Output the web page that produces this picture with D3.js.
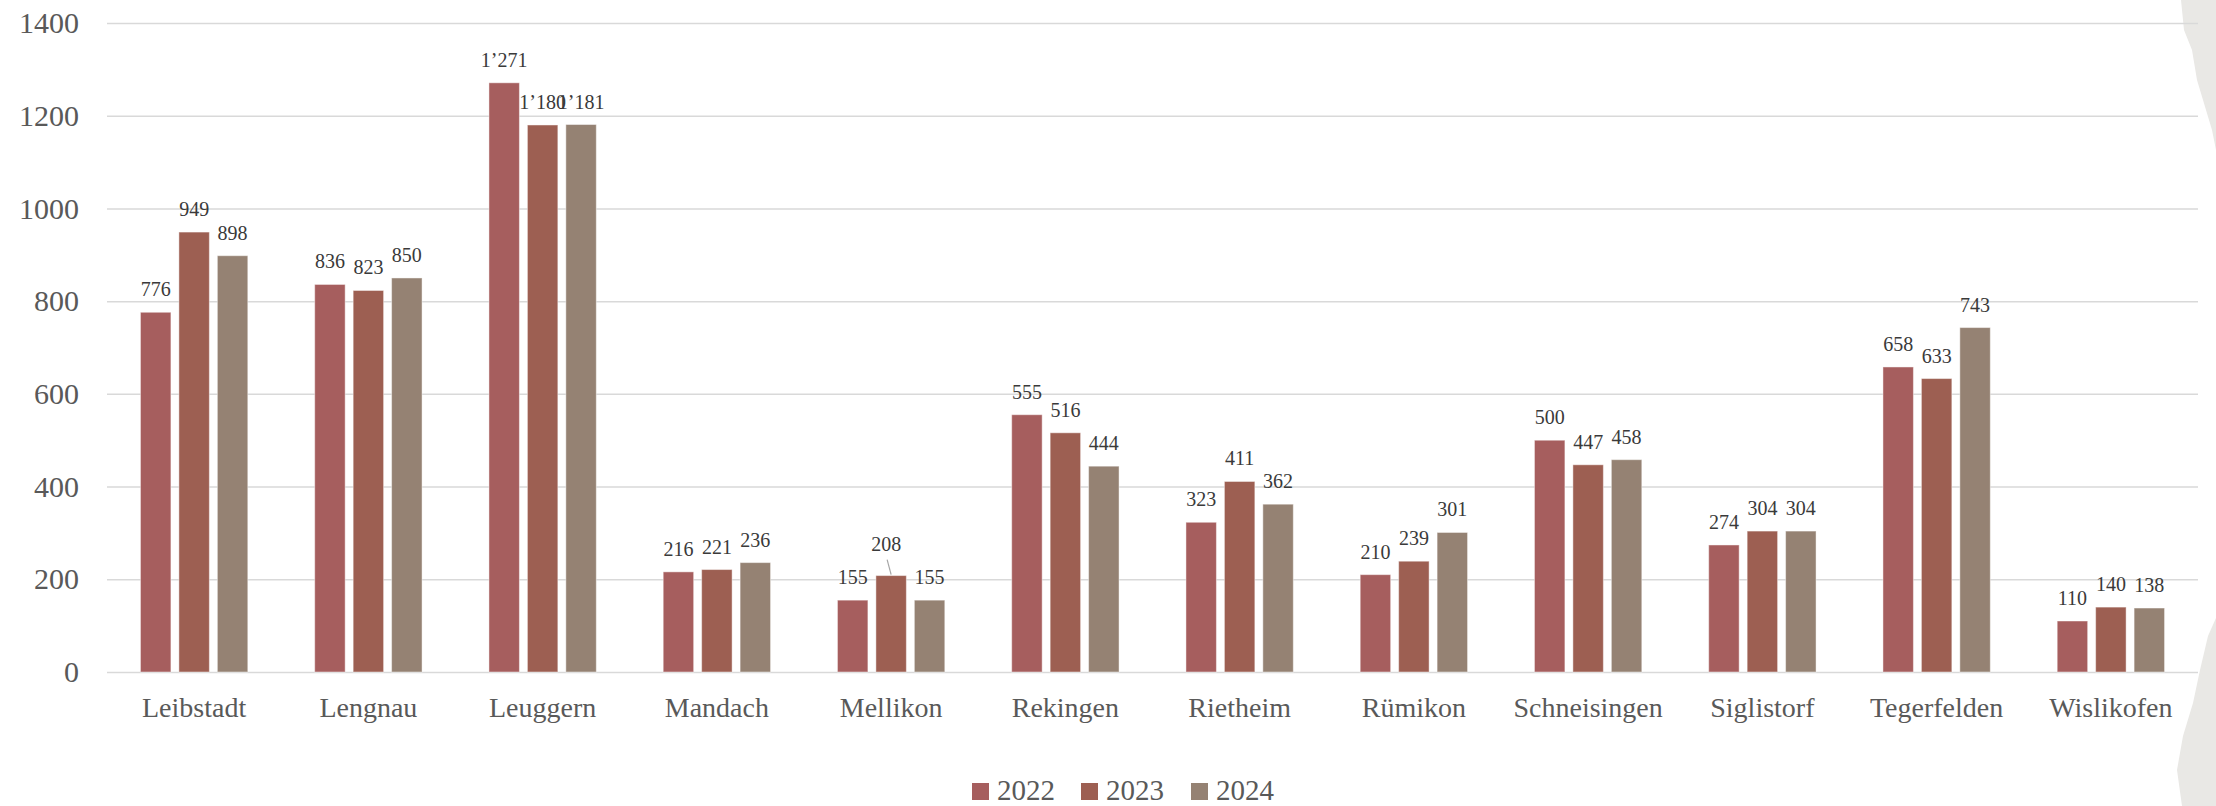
<!DOCTYPE html>
<html>
<head>
<meta charset="utf-8">
<script src="https://cdn.jsdelivr.net/npm/d3@7"></script>
<style>
  body { margin: 0; background: #fff; }
  svg { display: block; }
  svg text { font-family: "Liberation Serif", "Times New Roman", "DejaVu Serif", serif; }
</style>
</head>
<body>
<div id="chart"></div>
<script>
const places = ["Leibstadt", "Lengnau", "Leuggern", "Mandach", "Mellikon", "Rekingen",
  "Rietheim", "Rümikon", "Schneisingen", "Siglistorf", "Tegerfelden", "Wislikofen"];
const years = ["2022", "2023", "2024"];
const values2022 = [776, 836, 1271, 216, 155, 555, 323, 210, 500, 274, 658, 110];
const values2023 = [949, 823, 1180, 221, 208, 516, 411, 239, 447, 304, 633, 140];
const values2024 = [898, 850, 1181, 236, 155, 444, 362, 301, 458, 304, 743, 138];
const yTicks = [0, 200, 400, 600, 800, 1000, 1200, 1400];

const colors = ["#a65e5e", "#9d5f52", "#958273"];
const W = 2216, H = 806;
const plotLeft = 107, plotRight = 2198, plotTop = 23, plotBottom = 672;
const serif = "Liberation Serif, Times New Roman, DejaVu Serif, serif";

const svg = d3.select("#chart").append("svg")
  .attr("width", W)
  .attr("height", H);

// torn paper strip on the right edge
const paper = d3.line();
svg.append("path")
  .attr("d", paper([[2181, 0], [2184, 30], [2192, 50], [2197, 80], [2203, 100], [2212, 130], [2216, 150], [2216, 0]]) + "Z")
  .attr("fill", "#e9e8e5");
svg.append("path")
  .attr("d", paper([[2216, 618], [2208, 636], [2200, 670], [2193, 703], [2183, 736], [2177, 770], [2182, 806], [2216, 806]]) + "Z")
  .attr("fill", "#e9e8e5");

const x0 = d3.scaleBand().domain(places).range([plotLeft, plotRight]).padding(0);
const x1 = d3.scaleBand().domain(years).range([0, x0.bandwidth()])
  .paddingInner(0.208).paddingOuter(0.87);
const y = d3.scaleLinear().domain([0, 1400]).range([plotBottom, plotTop]);

const fmt = d3.formatLocale({ decimal: ".", thousands: "’", grouping: [3], currency: ["", ""] }).format(",d");

// gridlines + y axis labels
const yAxis = d3.axisLeft(y).tickValues(yTicks).tickSize(-(plotRight - plotLeft)).tickFormat(d3.format("d"));
const ga = svg.append("g").attr("transform", `translate(${plotLeft},0)`).call(yAxis);
ga.attr("font-family", serif);
ga.select(".domain").remove();
ga.selectAll(".tick line").attr("stroke", "#d9d9d9").attr("stroke-width", 1.5);
ga.selectAll(".tick text")
  .attr("x", -28)
  .attr("fill", "#595959")
  .attr("font-size", 30);

// bars
const series = [values2022, values2023, values2024];
const rows = places.map((p, i) => ({ place: p, vals: years.map((yr, k) => ({ year: yr, k: k, v: series[k][i], place: p })) }));

const groups = svg.selectAll(".grp")
  .data(rows)
  .enter()
  .append("g")
  .attr("class", "grp")
  .attr("transform", (d) => `translate(${x0(d.place)},0)`);

groups.selectAll("rect")
  .data((d) => d.vals)
  .enter()
  .append("rect")
  .attr("x", (d) => x1(d.year))
  .attr("y", (d) => y(d.v))
  .attr("width", x1.bandwidth())
  .attr("height", (d) => y(0) - y(d.v))
  .attr("fill", (d) => colors[d.k])
  .attr("stroke", "#fff")
  .attr("stroke-opacity", 0.45)
  .attr("stroke-width", 1);

// data labels (Mellikon 2023 sits higher with a leader line)
groups.selectAll(".lbl")
  .data((d) => d.vals)
  .enter()
  .append("text")
  .attr("class", "lbl")
  .attr("x", (d) => {
    let cx = x1(d.year) + x1.bandwidth() / 2;
    if (d.place === "Mellikon" && d.year === "2023") cx -= 5;
    return cx;
  })
  .attr("y", (d) => {
    if (d.place === "Mellikon" && d.year === "2023") return y(d.v) - 25;
    return y(d.v) - 16;
  })
  .attr("text-anchor", "middle")
  .attr("fill", "#3a3a3a")
  .attr("font-size", 20)
  .text((d) => fmt(d.v));

const mel = rows.find((r) => r.place === "Mellikon").vals[1];
const melX = x0("Mellikon") + x1("2023") + x1.bandwidth() / 2;
svg.append("line")
  .attr("x1", melX - 4)
  .attr("y1", y(mel.v) - 16)
  .attr("x2", melX)
  .attr("y2", y(mel.v) - 1)
  .attr("stroke", "#a6a6a6")
  .attr("stroke-width", 1.2);

// category labels
svg.append("g")
  .selectAll("text")
  .data(places)
  .enter()
  .append("text")
  .attr("x", (d) => x0(d) + x0.bandwidth() / 2)
  .attr("y", 717)
  .attr("text-anchor", "middle")
  .attr("fill", "#595959")
  .attr("font-size", 28)
  .text((d) => d);

// legend
const legX = [972, 1081, 1191];
const leg = svg.append("g")
  .selectAll("g")
  .data(years)
  .enter()
  .append("g")
  .attr("transform", (d, i) => `translate(${legX[i]},783)`);
leg.append("rect")
  .attr("width", 17)
  .attr("height", 17)
  .attr("fill", (d, i) => colors[i]);
leg.append("text")
  .attr("x", 25)
  .attr("y", 17)
  .attr("fill", "#595959")
  .attr("font-size", 29)
  .text((d) => d);
</script>
</body>
</html>
